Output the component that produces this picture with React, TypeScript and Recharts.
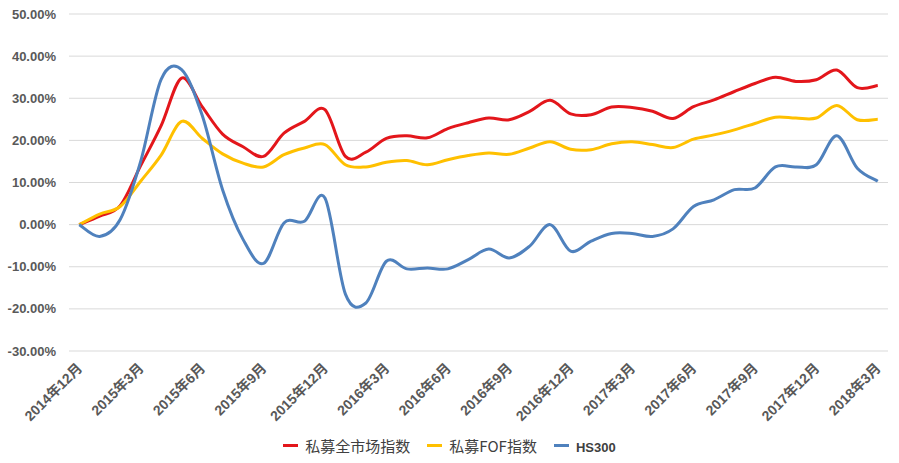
import { LineChart, Line, XAxis, YAxis, CartesianGrid, Legend } from 'recharts';

const months = [
  '2014年12月', '2015年1月', '2015年2月', '2015年3月', '2015年4月', '2015年5月', '2015年6月',
  '2015年7月', '2015年8月', '2015年9月', '2015年10月', '2015年11月', '2015年12月',
  '2016年1月', '2016年2月', '2016年3月', '2016年4月', '2016年5月', '2016年6月',
  '2016年7月', '2016年8月', '2016年9月', '2016年10月', '2016年11月', '2016年12月',
  '2017年1月', '2017年2月', '2017年3月', '2017年4月', '2017年5月', '2017年6月',
  '2017年7月', '2017年8月', '2017年9月', '2017年10月', '2017年11月', '2017年12月',
  '2018年1月', '2018年2月', '2018年3月',
];

// 私募全市场指数 (%)
const allMarket = [
  0, 2, 4.5, 14, 23.5, 34.8, 28, 21.5, 18.5, 16.2, 21.7, 24.5, 27.3,
  16.2, 17.2, 20.5, 21.1, 20.6, 22.8, 24.2, 25.3, 24.9, 26.9, 29.5, 26.3,
  26.1, 27.9, 27.8, 26.9, 25.2, 28, 29.6, 31.6, 33.5, 35, 34, 34.4, 36.7, 32.5, 33,
];

// 私募FOF指数 (%)
const fof = [
  0, 2.5, 4.3, 10.3, 16.5, 24.5, 20.5, 16.8, 14.6, 13.7, 16.6, 18.2, 19,
  14.2, 13.7, 14.8, 15.2, 14.2, 15.4, 16.4, 17, 16.7, 18.2, 19.7, 17.9,
  17.8, 19.2, 19.7, 19, 18.3, 20.3, 21.3, 22.5, 24, 25.5, 25.3, 25.3, 28.3, 24.9, 25,
];

// HS300 (%)
const hs300 = [
  0, -2.8, 1.2, 15, 34.5, 36.8, 26, 8.3, -3.5, -9.2, 0.4, 0.8, 6.3,
  -16.5, -18.6, -8.7, -10.5, -10.3, -10.5, -8.3, -5.8, -7.9, -5.1, 0, -6.3,
  -3.9, -2.1, -2.1, -2.8, -1, 4.3, 5.9, 8.3, 8.7, 13.7, 13.7, 14.2, 21.1, 13.4, 10.3,
];

const yTicks = [-30, -20, -10, 0, 10, 20, 30, 40, 50];

const seriesInfo = [
  { key: 'allMarket', name: '私募全市场指数', color: '#E3161B' },
  { key: 'fof', name: '私募FOF指数', color: '#FFC000' },
  { key: 'hs300', name: 'HS300', color: '#4F81BD' },
];

const data = months.map((m, i) => ({
  month: m,
  allMarket: allMarket[i],
  fof: fof[i],
  hs300: hs300[i],
}));

const FONT = '"Liberation Sans", "Noto Sans CJK SC", sans-serif';

// Excel-style smoothed line (Catmull-Rom through every point)
function smoothCurve(context: any) {
  let pts: number[][] = [];
  return {
    areaStart() {},
    areaEnd() {},
    lineStart() {
      pts = [];
    },
    point(x: number, y: number) {
      pts.push([+x, +y]);
    },
    lineEnd() {
      if (!pts.length) return;
      context.moveTo(pts[0][0], pts[0][1]);
      for (let i = 0; i < pts.length - 1; i++) {
        const p0 = pts[i - 1] || pts[i];
        const p1 = pts[i];
        const p2 = pts[i + 1];
        const p3 = pts[i + 2] || p2;
        context.bezierCurveTo(
          p1[0] + (p2[0] - p0[0]) / 6,
          p1[1] + (p2[1] - p0[1]) / 6,
          p2[0] - (p3[0] - p1[0]) / 6,
          p2[1] - (p3[1] - p1[1]) / 6,
          p2[0],
          p2[1],
        );
      }
    },
  };
}

function XTick(props: any) {
  const { x, y, payload } = props;
  return (
    <g transform={`translate(${x + 4},${y + 10}) rotate(-45)`}>
      <text
        x={0}
        y={0}
        textAnchor="end"
        fill="#595959"
        fontSize={14}
        fontWeight="bold"
        fontFamily={FONT}
      >
        {payload.value}
      </text>
    </g>
  );
}

function ChartLegend() {
  return (
    <div
      style={{
        display: 'flex',
        justifyContent: 'center',
        alignItems: 'center',
        height: 20,
        gap: 17,
        fontFamily: '"Noto Sans CJK SC", sans-serif',
        color: '#404040',
      }}
    >
      {seriesInfo.map((s) => (
        <div key={s.key} style={{ display: 'flex', alignItems: 'center' }}>
          <span style={{ display: 'inline-block', width: 15, height: 3, background: s.color, marginRight: 7 }} />
          <span style={{ fontSize: 15, fontWeight: s.key === 'hs300' ? 'bold' : 'normal' }}>
            {s.key === 'hs300' ? <span style={{ fontFamily: FONT, fontSize: 13 }}>{s.name}</span> : s.name}
          </span>
        </div>
      ))}
    </div>
  );
}

export default function App() {
  return (
    <div style={{ position: 'absolute', left: 0, top: 0, background: '#fff' }}>
      <LineChart width={899} height={463} data={data} margin={{ top: 14, right: 11, bottom: 8, left: 5 }}>
        <CartesianGrid vertical={false} stroke="#D9D9D9" />
        <XAxis
          dataKey="month"
          scale="band"
          interval={2}
          height={84}
          tickLine={false}
          axisLine={false}
          tick={<XTick />}
        />
        <YAxis
          domain={[-30, 50]}
          ticks={yTicks}
          width={64}
          tickLine={false}
          axisLine={false}
          tickMargin={7}
          tickFormatter={(v: number) => `${v.toFixed(2)}%`}
          tick={{ fill: '#595959', fontSize: 13, fontWeight: 'bold', fontFamily: FONT }}
        />
        <Legend verticalAlign="bottom" content={<ChartLegend />} wrapperStyle={{ left: 0, width: 899 }} />
        {seriesInfo.map((s) => (
          <Line
            key={s.key}
            type={smoothCurve as any}
            dataKey={s.key}
            name={s.name}
            stroke={s.color}
            strokeWidth={3}
            dot={false}
            isAnimationActive={false}
          />
        ))}
      </LineChart>
    </div>
  );
}
